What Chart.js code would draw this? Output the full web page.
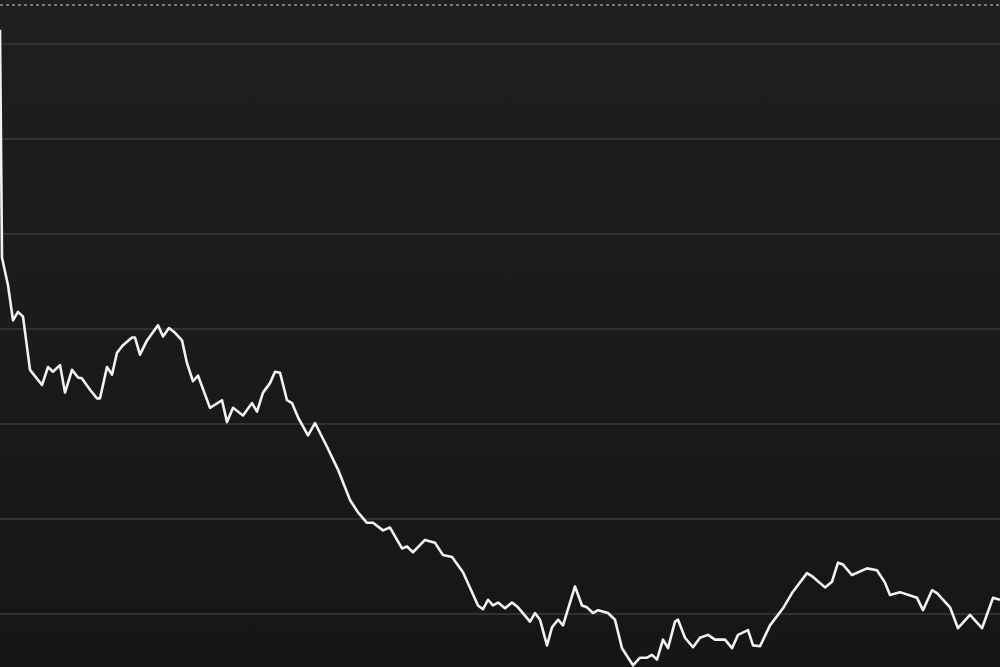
<!DOCTYPE html>
<html lang="en">
<head>
    <meta charset="UTF-8">
    <title>Price chart</title>
    <script src="https://cdn.jsdelivr.net/npm/chart.js"></script>
    <style>
        html, body { margin: 0; padding: 0; }
        body { background: linear-gradient(#1f1f1f, #171617); width: 1000px; height: 667px; overflow: hidden; }
        .chart { position: relative; width: 1000px; height: 667px; }
    </style>
</head>
<body>
    <div class="chart">
        <canvas id="priceChart"></canvas>
    </div>

    <script>
        // trading day offsets and closing values
        const days = [0, 0.4, 1.6, 2.6, 3.6, 4.6, 6, 8.4, 9.6, 10.6, 12, 13, 14.4, 15.6, 16.4, 18, 19.4, 20, 21.4, 22.4, 23.4, 24.6, 26.4, 27, 28, 29.4, 31.6, 32.6, 33.8, 35, 36.4, 37.4, 38.6, 39.6, 42, 44.4, 45.4, 46.6, 48.6, 50.4, 51.4, 52.6, 54, 55, 56, 57.4, 58.4, 59.6, 61.6, 63, 65.4, 67.6, 70, 71.6, 73.4, 74.6, 76.6, 78, 80.4, 81.4, 82.6, 85, 87, 88.6, 90.4, 92.6, 95.6, 96.6, 97.6, 98.6, 99.6, 101, 102.4, 103.6, 106, 107, 108, 109.4, 110.4, 111.6, 112.6, 115, 116.4, 117.4, 118.6, 119.6, 121.6, 123, 124.4, 126.6, 128, 129.4, 130.4, 131.4, 132.6, 133.6, 135, 135.6, 137, 138.6, 140, 141.6, 143, 145, 146.4, 147.6, 149.6, 150.6, 152, 154, 156.6, 158.4, 161.4, 162.6, 165, 166.4, 167.6, 168.6, 170.4, 173.4, 175.4, 177, 178, 180, 183.4, 184.6, 186.4, 187.4, 190, 191.6, 194, 196.4, 198.6, 200];
        const closes = [81.5, 57.5, 54.6, 50.9, 51.8, 51.3, 45.7, 44.1, 46.0, 45.5, 46.2, 43.3, 45.7, 44.9, 44.8, 43.6, 42.7, 42.7, 46.0, 45.2, 47.5, 48.3, 49.1, 49.1, 47.3, 48.8, 50.4, 49.2, 50.1, 49.6, 48.8, 46.4, 44.5, 45.1, 41.7, 42.5, 40.2, 41.7, 40.9, 42.2, 41.3, 43.3, 44.3, 45.5, 45.4, 42.5, 42.2, 40.7, 38.8, 40.1, 37.6, 35.2, 32.0, 30.7, 29.6, 29.6, 28.8, 29.1, 26.9, 27.1, 26.5, 27.8, 27.5, 26.2, 26.0, 24.4, 20.9, 20.5, 21.5, 20.9, 21.2, 20.6, 21.2, 20.7, 19.2, 20.1, 19.4, 16.7, 18.6, 19.4, 18.8, 22.9, 20.9, 20.7, 20.1, 20.4, 20.1, 19.4, 16.4, 14.6, 15.4, 15.4, 15.7, 15.2, 17.3, 16.4, 19.2, 19.4, 17.5, 16.5, 17.5, 17.8, 17.3, 17.3, 16.4, 17.8, 18.3, 16.7, 16.6, 18.8, 20.6, 22.2, 24.3, 23.9, 22.8, 23.4, 25.4, 25.2, 24.1, 24.8, 24.6, 23.3, 22.0, 22.3, 21.7, 20.4, 22.5, 22.2, 20.7, 18.5, 19.9, 18.5, 21.7, 21.5];

        // horizontal reference lines
        const gridTicks = [20, 30, 40, 50, 60, 70, 80];
        const highMark = 84.1;

        const yMin = 14.42;
        const yMax = 84.63;

        new Chart(document.getElementById('priceChart'), {
            type: 'line',
            data: {
                datasets: [
                    {
                        label: 'Close',
                        data: days.map((d, i) => ({ x: d, y: closes[i] })),
                        borderColor: '#f2f2f2',
                        borderWidth: 2.6,
                        pointRadius: 0,
                        tension: 0,
                        borderJoinStyle: 'round'
                    },
                    {
                        label: 'High',
                        data: [{ x: days[0], y: highMark }, { x: days[days.length - 1], y: highMark }],
                        borderColor: '#7a7a7a',
                        borderWidth: 2,
                        borderDash: [3, 3],
                        pointRadius: 0
                    }
                ]
            },
            options: {
                responsive: true,
                maintainAspectRatio: false,
                animation: false,
                layout: { padding: 0 },
                plugins: { legend: { display: false }, tooltip: { enabled: false } },
                scales: {
                    x: {
                        type: 'linear',
                        min: 0,
                        max: 200,
                        display: true,
                        ticks: { display: false },
                        grid: { display: false, drawTicks: false },
                        border: { display: false }
                    },
                    y: {
                        min: yMin,
                        max: yMax,
                        afterBuildTicks: axis => { axis.ticks = gridTicks.map(v => ({ value: v })); },
                        ticks: { display: false },
                        grid: { color: '#313131', lineWidth: 2, drawTicks: false },
                        border: { display: false }
                    }
                }
            }
        });
    </script>
</body>
</html>
